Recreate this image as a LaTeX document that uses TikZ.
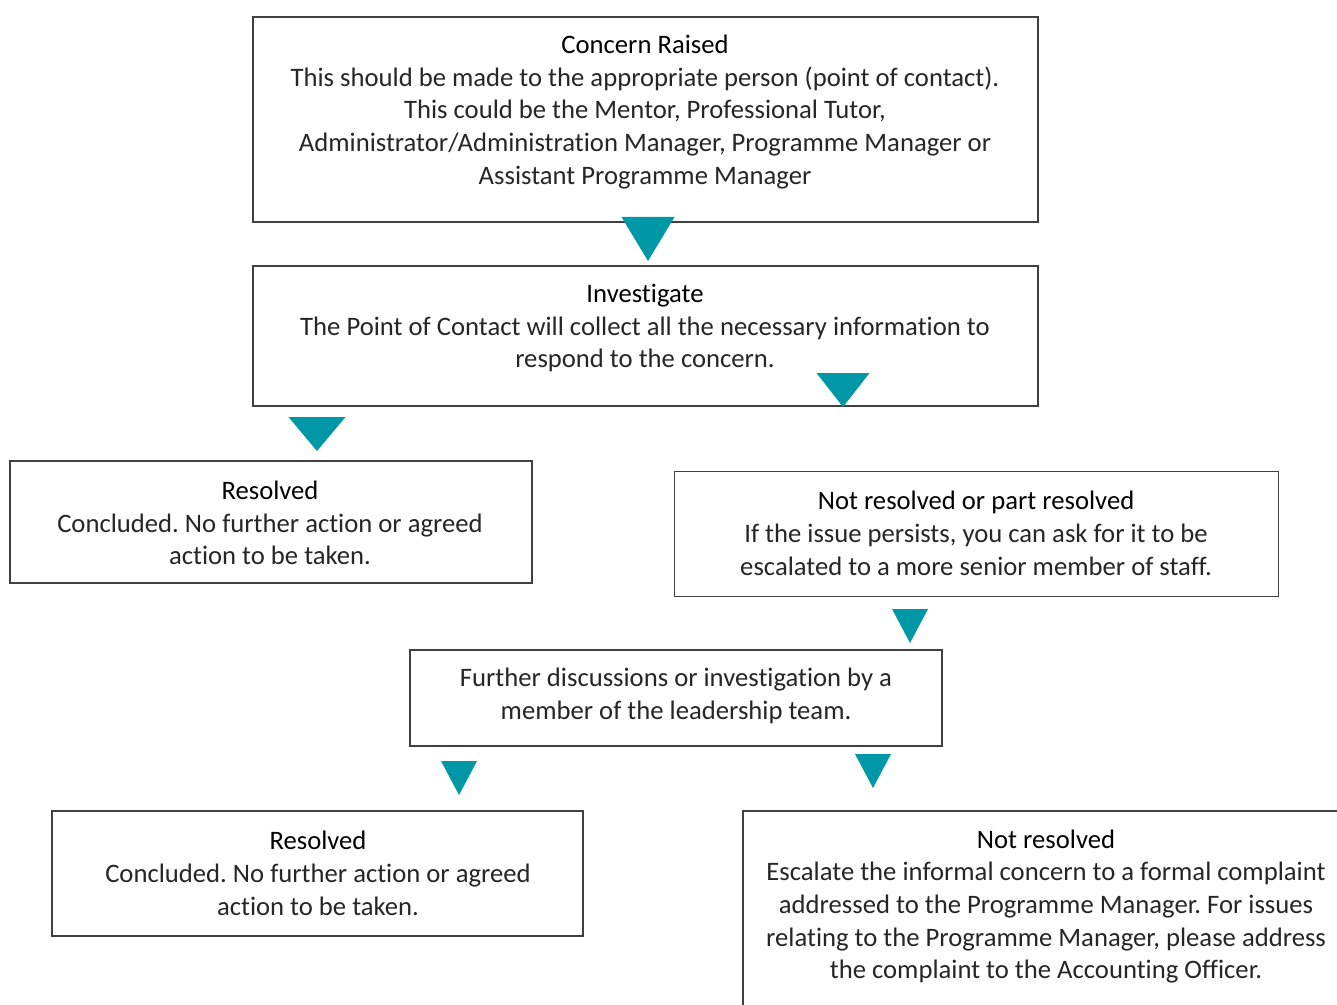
\documentclass[tikz,border=0pt]{standalone}
\usepackage{fontspec}
\setmainfont{Carlito}[Ligatures=CommonOff]
\frenchspacing
\definecolor{arrowteal}{RGB}{0,151,167}
\definecolor{boxline}{RGB}{64,64,64}
\definecolor{bodytext}{RGB}{38,38,38}
\tikzset{
  box/.style={draw=boxline, line width=1pt, rectangle, inner sep=0pt},
  txt/.style={align=center, inner sep=0pt, text=bodytext,
    font=\fontsize{20}{24.5}\selectfont},
  tri/.style={fill=arrowteal, draw=none},
}
\newcommand{\hd}[1]{{\color{black}#1}}
\newcommand{\downtri}[5]{% name, x center, y top, width, height
  \fill[tri] (#2-#4/2,#3) -- (#2+#4/2,#3) -- (#2,#3+#5) -- cycle;
  \coordinate (#1) at (#2,#3);}
\begin{document}
\begin{tikzpicture}[x=0.75pt,y=-0.75pt]
\useasboundingbox (0,0) rectangle (1337,1005);
\clip (0,0) rectangle (1337,1005);
\fill[white] (0,0) rectangle (1337,1005);
% boxes
\node[box, minimum width=785*0.75pt, minimum height=205*0.75pt] (b1) at (645.5,119.5) {};
\node[box, minimum width=785*0.75pt, minimum height=140*0.75pt] (b2) at (645.5,336) {};
\node[box, minimum width=522*0.75pt, minimum height=122*0.75pt] (b3) at (271,522) {};
\node[box, minimum width=604*0.75pt, minimum height=125*0.75pt] (b4) at (976.5,534) {};
\node[box, minimum width=532*0.75pt, minimum height=96*0.75pt] (b5) at (676,698) {};
\node[box, minimum width=531*0.75pt, minimum height=125*0.75pt] (b6) at (317.5,873.5) {};
\node[box, minimum width=610*0.75pt, minimum height=220*0.75pt] (b7) at (1048,921) {};
% texts
\node[txt] (t1) at (645,112) {\hd{Concern Raised}\\This should be made to the appropriate person (point of contact).\\This could be the Mentor, Professional Tutor,\\Administrator/Administration Manager, Programme Manager or\\Assistant Programme Manager};
\node[txt] (t2) at (645,328) {\hd{Investigate}\\The Point of Contact will collect all the necessary information to\\respond to the concern.};
\node[txt] (t3) at (270,523) {\hd{Resolved}\\Concluded. No further action or agreed\\action to be taken.};
\node[txt] (t4) at (976,533.5) {\hd{Not resolved or part resolved}\\If the issue persists, you can ask for it to be\\escalated to a more senior member of staff.};
\node[txt] (t5) at (676,696) {Further discussions or investigation by a\\member of the leadership team.};
\node[txt] (t6) at (318,873.5) {\hd{Resolved}\\Concluded. No further action or agreed\\action to be taken.};
\node[txt] (t7) at (1046,906.5) {\hd{Not resolved}\\Escalate the informal concern to a formal complaint\\addressed to the Programme Manager. For issues\\relating to the Programme Manager, please address\\the complaint to the Accounting Officer.};
% connectors (teal triangles)
\downtri{a1}{648}{217}{53}{44}
\downtri{a2}{843}{373}{53}{34}
\downtri{a3}{317}{417}{57}{34}
\downtri{a4}{910}{609}{36}{34}
\downtri{a5}{459}{761}{36}{34}
\downtri{a6}{873}{754}{36}{34}
\end{tikzpicture}
\end{document}
